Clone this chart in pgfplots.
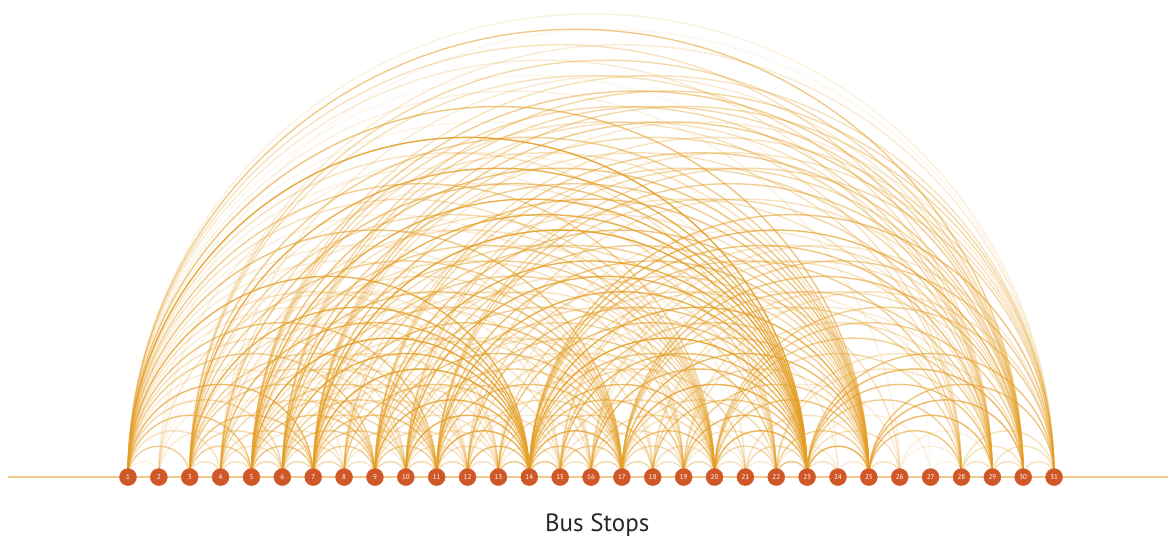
\documentclass[border=0pt]{standalone}
\usepackage{fontspec}
\setmainfont{PT Sans}
\usepackage{pgfplots}
\pgfplotsset{compat=1.18}
\usepackage{pgfplotstable}
\definecolor{arcc}{RGB}{228,158,38}
\definecolor{stopc}{RGB}{208,88,40}
\definecolor{basec}{RGB}{236,178,90}
\definecolor{titlec}{RGB}{40,40,40}

\pgfplotstableread{
stop y
1 0
2 0
3 0
4 0
5 0
6 0
7 0
8 0
9 0
10 0
11 0
12 0
13 0
14 0
15 0
16 0
17 0
18 0
19 0
20 0
21 0
22 0
23 0
24 0
25 0
26 0
27 0
28 0
29 0
30 0
31 0
}\stops

% from / to / strength
\def\arclist{
1/2/0.15,1/3/0.5,1/4/0.3,1/5/0.6,1/6/0.4,1/7/0.7,1/8/0.2,1/9/0.5,1/10/0.3,1/11/0.6,1/12/0.2,1/13/0.3,1/14/0.8,1/15/0.2,1/16/0.2,1/17/0.6,1/18/0.15,1/19/0.3,1/20/0.5,1/21/0.15,1/22/0.3,1/23/0.9,1/24/0.1,1/25/0.6,1/26/0.15,1/27/0.08,1/28/0.2,1/29/0.3,1/30/0.55,1/31/0.15,
2/5/0.2,2/7/0.15,2/9/0.1,2/11/0.1,2/14/0.25,2/17/0.1,2/23/0.15,2/31/0.08,
3/4/0.3,3/5/0.5,3/6/0.4,3/7/0.6,3/9/0.5,3/10/0.3,3/11/0.5,3/13/0.3,3/14/0.8,3/15/0.2,3/17/0.5,3/19/0.2,3/20/0.4,3/22/0.2,3/23/0.8,3/25/0.5,3/29/0.3,3/30/0.4,3/31/0.2,
4/5/0.3,4/6/0.3,4/7/0.4,4/9/0.4,4/11/0.4,4/12/0.2,4/14/0.7,4/16/0.15,4/17/0.3,4/20/0.3,4/23/0.6,4/25/0.3,4/30/0.2,
5/6/0.4,5/7/0.6,5/8/0.25,5/9/0.6,5/10/0.4,5/11/0.5,5/12/0.3,5/13/0.3,5/14/0.9,5/16/0.3,5/17/0.6,5/19/0.3,5/20/0.5,5/22/0.3,5/23/0.8,5/25/0.6,5/28/0.3,5/29/0.4,5/30/0.5,5/31/0.3,
6/7/0.4,6/8/0.3,6/9/0.5,6/10/0.4,6/11/0.5,6/12/0.25,6/14/0.8,6/15/0.3,6/17/0.5,6/18/0.2,6/20/0.5,6/21/0.15,6/23/0.8,6/25/0.5,6/29/0.3,6/30/0.4,6/31/0.4,
7/8/0.4,7/9/0.5,7/10/0.5,7/11/0.6,7/12/0.3,7/13/0.3,7/14/0.9,7/16/0.3,7/17/0.6,7/19/0.3,7/20/0.5,7/22/0.4,7/23/0.9,7/25/0.6,7/28/0.3,7/29/0.4,7/30/0.5,7/31/0.4,
8/9/0.3,8/10/0.2,8/11/0.3,8/14/0.6,8/17/0.3,8/20/0.3,8/23/0.5,8/25/0.3,8/31/0.2,
9/10/0.4,9/11/0.5,9/12/0.3,9/13/0.3,9/14/0.8,9/15/0.3,9/17/0.6,9/18/0.3,9/20/0.5,9/22/0.3,9/23/0.8,9/25/0.6,9/29/0.4,9/30/0.5,9/31/0.3,
10/11/0.4,10/12/0.3,10/13/0.3,10/14/0.8,10/16/0.3,10/17/0.5,10/19/0.3,10/20/0.4,10/23/0.8,10/25/0.5,10/28/0.3,10/30/0.4,10/31/0.3,
11/12/0.4,11/13/0.3,11/14/0.8,11/15/0.3,11/17/0.6,11/19/0.3,11/20/0.5,11/22/0.4,11/23/0.8,11/25/0.6,11/29/0.4,11/30/0.5,11/31/0.4,
12/13/0.3,12/14/0.7,12/16/0.2,12/17/0.4,12/20/0.3,12/23/0.6,12/25/0.4,12/30/0.3,
13/14/0.6,13/15/0.2,13/17/0.4,13/20/0.3,13/23/0.6,13/25/0.4,13/29/0.2,
14/15/0.6,14/16/0.6,14/17/0.8,14/18/0.5,14/19/0.6,14/20/0.7,14/21/0.4,14/22/0.6,14/23/0.9,14/24/0.2,14/25/0.8,14/26/0.3,14/28/0.5,14/29/0.6,14/30/0.7,14/31/0.6,
15/16/0.3,15/17/0.5,15/18/0.25,15/20/0.4,15/23/0.7,15/25/0.5,15/29/0.3,15/30/0.3,
16/17/0.4,16/19/0.3,16/20/0.4,16/23/0.7,16/25/0.5,16/28/0.2,16/30/0.3,16/31/0.25,
17/18/0.4,17/19/0.4,17/20/0.6,17/21/0.25,17/22/0.4,17/23/0.8,17/25/0.7,17/28/0.4,17/29/0.5,17/30/0.6,17/31/0.5,
18/19/0.3,18/20/0.3,18/23/0.6,18/25/0.4,18/29/0.2,18/30/0.3,
19/20/0.4,19/21/0.2,19/22/0.3,19/23/0.7,19/25/0.5,19/29/0.3,19/31/0.3,
20/21/0.3,20/22/0.4,20/23/0.8,20/25/0.6,20/26/0.2,20/28/0.4,20/29/0.5,20/30/0.5,20/31/0.5,
21/22/0.2,21/23/0.4,21/25/0.3,
22/23/0.6,22/24/0.2,22/25/0.5,22/29/0.3,22/30/0.3,
23/24/0.3,23/25/0.8,23/26/0.3,23/27/0.15,23/28/0.5,23/29/0.6,23/30/0.7,23/31/0.6,
24/25/0.2,
25/26/0.3,25/28/0.6,25/29/0.7,25/30/0.7,25/31/0.6,
26/28/0.15,26/29/0.15,27/28/0.1,
28/29/0.3,28/30/0.3,28/31/0.3,29/30/0.3,29/31/0.3,30/31/0.3}

\begin{document}
\begin{tikzpicture}
\begin{axis}[
  scale only axis,
  width=1176pt, height=541pt,
  xmin=-3.146, xmax=34.95,
  ymin=-2.07, ymax=15.45,
  hide axis,
  clip=false,
  /pgf/number format/assume math mode=true,
]
\path (rel axis cs:0,0) rectangle (rel axis cs:1,1);
\foreach \a/\b/\w in \arclist {
  \pgfmathsetmacro\m{(\a+\b)/2}
  \pgfmathsetmacro\r{(\b-\a)/2}
  \pgfmathsetmacro\k{0.5523*\r}
  \pgfmathsetmacro\ml{\m-\k}
  \pgfmathsetmacro\mr{\m+\k}
  \edef\tmp{\noexpand\draw[arcc, line width=1.4pt, draw opacity=\w]
    (axis cs:\a,0) .. controls (axis cs:\a,\k) and (axis cs:\ml,\r) ..
    (axis cs:\m,\r) .. controls (axis cs:\mr,\r) and (axis cs:\b,\k) ..
    (axis cs:\b,0);}
  \tmp
}
\addplot[basec, line width=1.3pt, opacity=0.7] coordinates {(-2.89,0) (34.69,0)};
\addplot[only marks, mark=*, mark size=8.5pt,
  mark options={draw=stopc, fill=stopc},
  nodes near coords, point meta=x,
  nodes near coords style={anchor=center, text=white,
    font=\fontsize{7}{8}\selectfont}]
  table[x=stop, y=y] \stops;
\node[text=titlec, font=\fontsize{25}{28}\selectfont] at (axis cs:16.2,-1.55) {Bus Stops};
\end{axis}
\end{tikzpicture}
\end{document}
